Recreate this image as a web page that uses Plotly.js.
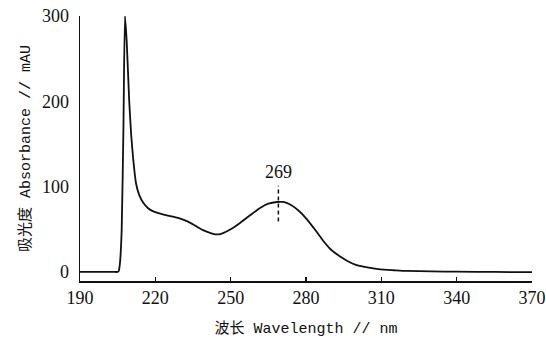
<!DOCTYPE html>
<html>
<head>
<meta charset="utf-8">
<script src="https://cdn.plot.ly/plotly-3.0.1.min.js"></script>
<style>html,body{margin:0;padding:0;background:#fff;}#chart{width:546px;height:340px;}</style>
</head>
<body>
<div id="chart"></div>
<script>
// Wavelength (nm)
const wavelength = [190, 195, 200, 204, 205, 205.4, 205.9, 206.6, 207.3, 207.9, 208.6, 209.6, 210.4, 211.2, 212.3, 213.6, 215.2, 217, 219.2, 223, 227, 230, 233, 236, 239, 241.5, 243.8, 246.5, 250, 254, 258, 261.7, 265, 268.4, 271, 273.7, 277, 280.3, 284, 287, 290, 293.6, 297, 300.2, 305, 309.5, 315, 320, 330, 340, 355, 370];
// Absorbance (mAU)
const absorbance = [0, 0, 0, 0, 0, 1, 10, 49, 170, 300, 270, 200, 160, 132, 104, 90, 81, 75, 71, 67.5, 64.8, 62.5, 59, 54, 49, 46, 44, 45, 50, 58, 67, 75, 80, 82, 82, 79, 72, 62, 48, 36, 26, 18, 12, 8, 5, 3, 2, 1.2, 0.6, 0.3, 0, -0.3];
// Peak marker
const peakX = [269, 269];
const peakY = [59, 101];
const peakLabel = "269";
const xTicks = [190, 220, 250, 280, 310, 340, 370];
const yTicks = [0, 100, 200, 300];

const serif = "Liberation Serif, Times New Roman, serif";
const mono = "Liberation Mono, Noto Sans CJK SC, monospace";

const traces = [
  {x: wavelength, y: absorbance, type: "scatter", mode: "lines",
   line: {color: "#111", width: 1.8, shape: "spline", smoothing: 0.5}, hoverinfo: "skip"},
  {x: peakX, y: peakY, type: "scatter", mode: "lines",
   line: {color: "#111", width: 1.5, dash: "4px,3px"}, hoverinfo: "skip"}
];

const layout = {
  width: 546, height: 340,
  margin: {l: 80, r: 14, t: 16, b: 59},
  paper_bgcolor: "#fff", plot_bgcolor: "#fff",
  showlegend: false,
  xaxis: {
    range: [190, 370], tickvals: xTicks, ticktext: xTicks.map(String),
    showgrid: false, zeroline: false, showline: true, linecolor: "#111", linewidth: 1.5,
    ticks: "inside", ticklen: 4, tickcolor: "#111", tickwidth: 1.2,
    tickfont: {family: serif, size: 18, color: "#111"},
    title: {text: "波长 Wavelength // nm", font: {family: mono, size: 15, color: "#111"}, standoff: 15}
  },
  yaxis: {
    range: [-10.6, 300], tickvals: yTicks, ticktext: yTicks.map(String),
    showgrid: false, zeroline: false, showline: true, linecolor: "#111", linewidth: 1.5,
    ticks: "", ticklabelstandoff: 6,
    tickfont: {family: serif, size: 18, color: "#111"},
    title: {text: "吸光度 Absorbance // mAU", font: {family: mono, size: 15, color: "#111"}, standoff: 7}
  },
  annotations: [
    {x: peakX[1], y: peakY[1], xref: "x", yref: "y", text: peakLabel, showarrow: false,
     yanchor: "bottom", yshift: 2, font: {family: serif, size: 18, color: "#111"}}
  ]
};

Plotly.newPlot("chart", traces, layout, {displayModeBar: false, staticPlot: true});
</script>
</body>
</html>
